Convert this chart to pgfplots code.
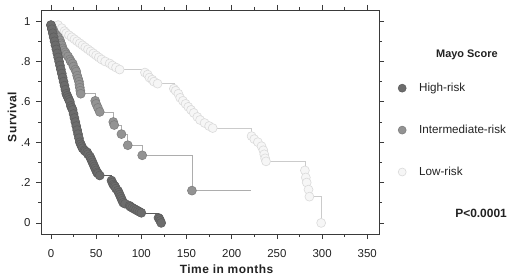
\documentclass[border=0pt]{standalone}
\usepackage{fontspec}
\setmainfont{Liberation Sans}
\newfontfamily\labfont[LetterSpace=4]{Liberation Sans}
\usepackage{pgfplots}
\pgfplotsset{compat=1.18}
\usepackage{pgfplotstable}

\definecolor{hiF}{HTML}{6C6C6C}
\definecolor{hiE}{HTML}{5E5E5E}
\definecolor{hiL}{HTML}{5A5A5A}
\definecolor{imF}{HTML}{939393}
\definecolor{imE}{HTML}{7E7E7E}
\definecolor{imL}{HTML}{ADADAD}
\definecolor{loF}{HTML}{F6F6F6}
\definecolor{loE}{HTML}{DADADA}
\definecolor{loL}{HTML}{CBCBCB}
\definecolor{axc}{HTML}{3A3A3A}
\definecolor{txt}{HTML}{222222}

\pgfplotstableread{
t S
0 0.98
1 0.96
2 0.94
3 0.92
4 0.90
5 0.88
6 0.86
7 0.84
8 0.82
9 0.80
10 0.78
11 0.76
12 0.74
13 0.72
14 0.70
15 0.68
16 0.66
17 0.64
18 0.63
19 0.62
20 0.61
21 0.60
22 0.58
23 0.57
24 0.56
25 0.54
26 0.52
27 0.50
28 0.48
29 0.46
30 0.44
31 0.42
32 0.40
33 0.39
34 0.38
35 0.37
37 0.36
38 0.355
40 0.35
41 0.34
43 0.33
44 0.32
45 0.31
46 0.30
47 0.29
48 0.28
49 0.27
50 0.26
51 0.25
52 0.245
54 0.235
67 0.21
68 0.20
69 0.19
70 0.185
71 0.18
72 0.17
74 0.16
75 0.15
76 0.14
77 0.13
78 0.12
79 0.11
80 0.10
82 0.095
87 0.085
88 0.08
90 0.075
92 0.07
94 0.065
96 0.06
98 0.055
100 0.05
119 0.025
120 0.02
121 0.01
122 0.0
}\highrisk

\pgfplotstableread{
t S
0 0.98
1 0.97
2 0.96
3 0.95
4 0.94
6 0.93
8 0.92
10 0.905
11 0.89
12 0.88
13 0.865
14 0.855
16 0.845
17 0.835
19 0.825
21 0.81
22 0.80
24 0.79
25 0.775
27 0.76
28 0.75
29 0.73
30 0.715
31 0.70
31.5 0.685
32 0.67
32.5 0.655
33 0.64
49 0.605
50 0.59
52 0.57
54 0.55
69 0.50
70 0.485
78 0.44
85 0.385
101 0.335
156 0.16
221 0.16
}\intermediate

\pgfplotstableread{
t S
8 0.98
12 0.965
15 0.95
17 0.94
20 0.93
23 0.92
26 0.91
29 0.90
32 0.89
35 0.88
38 0.87
41 0.86
44 0.85
47 0.84
50 0.83
53 0.82
56 0.81
60 0.80
65 0.79
68 0.78
72 0.77
76 0.76
104 0.745
107 0.735
109 0.72
112 0.71
114 0.70
118 0.69
136 0.665
138 0.655
141 0.64
143 0.62
146 0.605
149 0.59
152 0.575
155 0.56
158 0.545
162 0.525
165 0.51
170 0.495
175 0.48
179 0.47
222 0.43
225 0.415
229 0.40
233 0.38
235 0.36
236 0.34
237 0.32
238 0.305
281 0.26
282 0.225
283 0.20
285 0.165
286 0.13
299 0.0
}\lowrisk

\begin{document}
\begin{tikzpicture}
\path[use as bounding box] (0,0) rectangle (520bp,280bp);
\begin{axis}[
  at={(41bp,46bp)}, anchor=south west,
  scale only axis, width=338bp, height=224bp,
  xmin=-11, xmax=363, ymin=-0.055, ymax=1.055,
  clip=false,
  axis line style={draw=axc, line width=0.8bp},
  every tick/.style={draw=axc, line width=0.7bp},
  tick align=outside,
  major tick length=5bp, minor tick length=3bp,
  xtick={0,50,100,150,200,250,300,350},
  xticklabels={0,50,100,150,200,250,300,350},
  ytick={0,0.2,0.4,0.6,0.8,1},
  yticklabels={0,.2,.4,.6,.8,1},
  minor x tick num=1, minor y tick num=1,
  tick label style={font=\fontsize{11.5}{13}\selectfont, text=txt},
  xticklabel style={yshift=-7bp},
  yticklabel style={xshift=-2bp},
  xlabel={Time in months},
  ylabel={Survival},
  every axis x label/.style={at={([yshift=-35bp]axis description cs:0.549,0)}, anchor=center, font=\labfont\bfseries\fontsize{12}{14}\selectfont, text=txt},
  every axis y label/.style={at={([xshift=-29bp]axis description cs:0,0.522)}, rotate=90, anchor=center, font=\labfont\bfseries\fontsize{12}{14}\selectfont, text=txt},
  legend image code/.code={\draw[#1, draw=none, mark repeat=2, mark phase=2] plot coordinates {(0bp,0bp) (6bp,0bp) (21bp,0bp)};},
  legend style={at={(axis description cs:1.0503,0.683)}, anchor=north west, draw=none, fill=none, inner sep=0pt, row sep=28bp, font=\fontsize{11.7}{13}\selectfont, text=txt},
  legend cell align=left,
]
% low risk
\addplot[const plot, draw=loL, line width=0.6bp, forget plot] table[x=t,y=S]{\lowrisk};
\addplot[only marks, mark=*, mark size=4.5pt, mark options={fill=loF, draw=loE, line width=0.6bp}, forget plot] table[x=t,y=S]{\lowrisk};
% intermediate
\addplot[const plot, draw=imL, line width=0.6bp, forget plot] table[x=t,y=S]{\intermediate};
\addplot[only marks, mark=*, mark size=4.5pt, mark options={fill=imF, draw=imE, line width=0.6bp}, restrict x to domain=-20:200, forget plot] table[x=t,y=S]{\intermediate};
% high
\addplot[const plot, draw=hiL, line width=0.6bp, forget plot] table[x=t,y=S]{\highrisk};
\addplot[only marks, mark=*, mark size=4.5pt, mark options={fill=hiF, draw=hiE, line width=0.6bp}, forget plot] table[x=t,y=S]{\highrisk};

\addlegendimage{mark=*, mark size=4pt, mark options={fill=hiF, draw=hiE, line width=0.6bp}}
\addlegendentry{High-risk}
\addlegendimage{mark=*, mark size=4pt, mark options={fill=imF, draw=imE, line width=0.6bp}}
\addlegendentry{Intermediate-risk}
\addlegendimage{mark=*, mark size=4pt, mark options={fill=loF, draw=loE, line width=0.6bp}}
\addlegendentry{Low-risk}

\node[font=\bfseries\fontsize{11}{13}\selectfont, text=txt] at (axis description cs:1.260,0.799) {Mayo Score};
\node[font=\bfseries\fontsize{12}{14}\selectfont, text=txt] at (axis description cs:1.302,0.094) {P<0.0001};
\end{axis}
\end{tikzpicture}
\end{document}
